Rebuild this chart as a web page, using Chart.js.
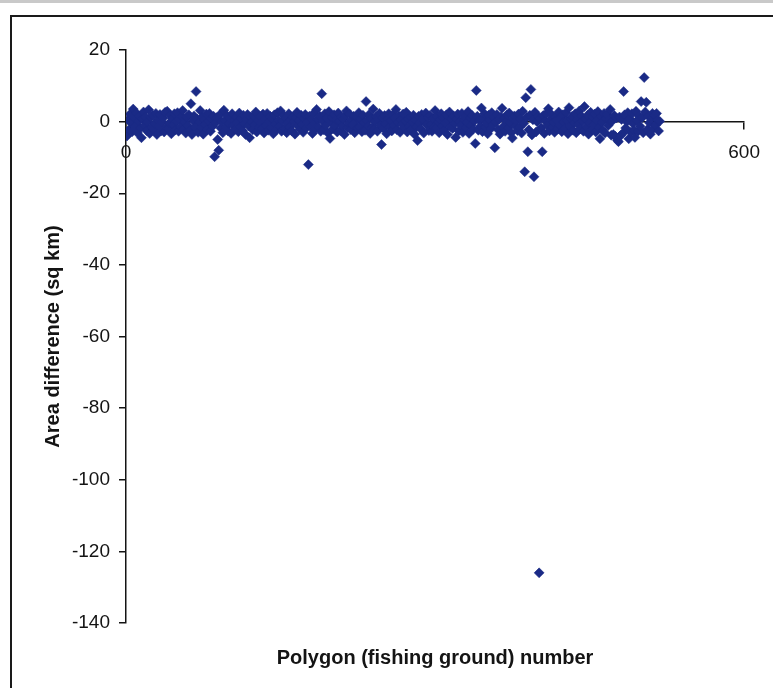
<!DOCTYPE html>
<html>
<head>
<meta charset="utf-8">
<script src="https://cdn.jsdelivr.net/npm/chart.js@4.4.1/dist/chart.umd.min.js"></script>
<style>
  html, body { margin: 0; padding: 0; background: #fff; overflow: hidden; }
  #wrap { position: relative; width: 773px; height: 688px; }
  #topband { position: absolute; left: 0; top: 0; width: 773px; height: 3px; background: #c9c9c9; }
  #frame { position: absolute; left: 10px; top: 15px; width: 800px; height: 700px; border: 2px solid #1a1a1a; }
  canvas { position: absolute; left: 0; top: 0; }
</style>
</head>
<body>
<div id="wrap">
  <div id="topband"></div>
  <div id="frame"></div>
  <canvas id="chart" width="773" height="688"></canvas>
</div>
<script>
// Area difference per polygon (fishing ground), polygon number = index + 1
const areaDiff = [
  -4.0, 0.5, -2.2, 2.1, -0.3, -2.8, 3.5, 1.1, -1.3, 2.4, -3.1, 0.2, 1.5, -1.8, -4.5, 0.8, 2.7, -1.0, 1.3, -2.5,
  0.0, 3.3, -3.3, 1.2, -1.5, 1.8, -2.1, -0.5, 2.3, -3.6, 0.4, -1.2, 2.0, -2.6, -0.1, 1.0, -2.9, 2.6, -1.6, 2.9,
  -1.9, -0.4, 1.7, -3.4, 0.9, -0.9, 2.2, -2.3, 0.1, 2.5, -2.7, 0.6, -1.4, 1.4, 3.1, -2.0, -0.2, -3.2, 1.2, -1.1,
  1.9, -2.4, 5.0, -3.6, 0.3, 1.6, -1.6, 8.4, 0.7, -3.0, -0.1, 3.1, -1.7, 1.3, -3.5, 0.5, -0.8, 2.1, -2.2, 0.2,
  2.3, -2.7, 0.8, -1.3, 1.5, -9.8, -0.3, 1.1, -5.0, -8.0, 1.9, -1.8, 0.0, -3.1, 3.2, 0.3, -1.5, 1.7, -2.6, -0.5,
  1.0, -3.3, 2.2, -1.0, 0.4, -2.1, 1.3, -0.2, -2.8, 2.4, -1.4, 0.9, -2.5, 1.8, -0.6, -3.6, 0.6, 2.0, -1.2, -4.5,
  1.2, -0.1, -2.3, 1.6, -0.9, 2.7, -2.9, 0.3, -1.6, 1.4, -0.4, -2.0, 2.1, -3.2, 0.7, -1.1, 2.3, -2.4, 0.1, 1.5,
  -1.7, 0.8, -3.4, 1.9, -0.7, -2.2, 2.5, 0.4, -1.3, 3.0, -2.7, 0.2, 1.7, -1.9, 1.0, -3.1, -0.3, 2.2, -1.5, 0.5,
  -2.6, 1.3, 0.0, -3.5, 1.1, 2.6, -1.2, 0.3, -2.1, 1.8, -0.8, -3.0, 0.9, 2.0, -1.8, -0.2, -12.0, 1.5, -1.4, 0.7,
  -3.3, 2.3, -0.5, -1.9, 3.4, 0.6, -1.6, 1.6, -2.7, 7.8, 0.1, -2.3, 2.2, -1.0, 1.0, -3.2, 2.8, -4.7, -0.1, 1.2,
  -2.0, 1.9, -1.1, 0.5, -2.9, 2.4, 0.2, -2.5, 1.3, -1.3, 0.8, -3.6, 1.7, 3.0, -1.7, -0.4, 2.1, -2.2, 0.4, -0.9,
  1.5, -3.1, 0.0, 1.2, -1.8, 2.5, -1.5, 0.7, -2.8, 1.8, -0.3, -2.4, 5.6, 0.3, -1.2, 2.0, -3.3, 0.9, -1.6, 3.5,
  -2.1, 0.1, 1.4, -2.7, 0.6, 2.3, -1.0, -6.4, 1.1, -1.9, 1.7, -0.6, -3.4, 0.8, 2.2, -1.4, 0.3, -2.6, 1.9, -1.1,
  1.0, 3.4, -2.3, -0.2, 1.6, -3.0, 0.5, -0.8, 2.1, -1.7, 0.2, 2.6, -2.9, 0.7, -1.3, 1.3, -2.2, -0.1, 1.8, -3.5,
  0.4, -1.5, -5.3, 1.5, -0.4, -2.0, 2.0, 0.8, -3.2, 0.1, 2.4, -0.9, 1.2, -2.5, 1.7, -0.7, -2.7, 0.9, -1.6, 3.1,
  -1.8, 1.4, -0.1, -3.1, 0.6, 2.2, -1.2, 1.1, -2.3, -0.3, 1.9, -3.6, 0.3, 2.7, -1.4, 0.8, -1.9, 1.6, -0.5, -4.4,
  0.7, 2.1, -2.6, 0.0, -1.1, 2.3, -3.0, 0.5, 1.3, -1.7, -0.2, 2.8, -3.3, 1.0, -1.0, 1.7, -2.1, 0.2, -6.1, 8.7,
  1.5, -2.4, 0.3, -1.3, 3.8, -2.8, 0.9, 2.2, -1.6, -0.4, -3.4, 1.8, 0.4, -2.0, 2.5, -0.9, 1.2, -7.3, -0.1, 2.0,
  -2.2, 0.6, -3.5, 1.3, 3.7, -1.4, 1.0, -2.7, 0.1, 1.9, -1.8, 2.4, -0.3, -3.1, -4.6, 0.8, 1.6, -1.2, 0.3, -2.5,
  2.1, -1.6, 0.7, -3.2, 2.9, -0.5, -14.0, 6.7, 1.2, -8.4, -2.3, 1.8, 9.0, -3.7, 0.5, -15.4, 2.6, -2.9, 0.0, 1.4,
  -126.0, 0.9, -1.7, -8.4, 1.7, -3.3, 0.2, 2.3, -1.1, 3.6, -2.6, 0.6, 2.0, -1.5, -0.2, -3.0, 1.3, 0.4, -2.1, 2.7,
  -1.0, 1.1, -2.8, 1.9, -0.1, -1.9, 2.5, 0.3, -3.4, 3.9, -1.3, 0.8, 1.5, -2.4, -0.4, 2.2, -3.1, 0.5, -0.8, 3.0,
  -2.0, 1.6, 0.1, -2.7, 4.2, 0.7, -1.4, 1.8, -3.5, -0.3, 2.6, -2.2, 1.2, -0.9, 2.1, -2.9, 0.3, 2.8, -1.7, -4.8,
  1.4, -0.2, -2.5, 2.3, -3.2, 0.9, 2.0, -1.1, 0.5, 3.4, -3.8, 0.2, -3.6, 1.7, -4.1, 1.0, -5.2, -5.6, 1.3, -3.9,
  0.6, -3.3, 8.4, 1.9, -1.8, 0.0, 2.5, -4.8, 0.8, -3.0, 2.2, -0.5, -2.4, -4.4, 2.9, 0.3, -2.7, 1.6, -1.3, 5.6,
  1.1, -3.1, 12.3, 2.7, 5.4, -2.2, 1.5, -0.3, -3.5, 0.9, 2.3, -1.9, 1.8, -1.0, 2.3, 0.4, -2.6, 0.1
];
const polygonNumbers = areaDiff.map((_, i) => i + 1);

const xTicks = [0, 600];
const yTicks = [20, 0, -20, -40, -60, -80, -100, -120, -140];

const xTitle = 'Polygon (fishing ground) number';
const yTitle = 'Area difference (sq km)';

const ink = '#141414';
const markerColor = '#1a2a86';
const tickFont = { family: "'Liberation Sans', Arial, sans-serif", size: 19 };
const titleFont = { family: "'Liberation Sans', Arial, sans-serif", size: 20, weight: 'bold' };

const points = polygonNumbers.map((x, i) => ({ x, y: areaDiff[i] }));

new Chart(document.getElementById('chart'), {
    type: 'scatter',
    data: {
        datasets: [{
            data: points,
            pointStyle: 'rectRot',
            pointRadius: 5,
            pointBackgroundColor: markerColor,
            pointBorderColor: markerColor,
            pointBorderWidth: 0.5,
        }],
    },
    options: {
        responsive: false,
        animation: false,
        layout: { padding: { left: 0, top: 50, right: 26, bottom: 0 } },
        plugins: {
            legend: { display: false },
            tooltip: { enabled: false },
        },
        scales: {
            x: {
                type: 'linear',
                position: { y: 0 },
                min: xTicks[0],
                max: xTicks[xTicks.length - 1],
                afterBuildTicks: (scale) => { scale.ticks = xTicks.map(v => ({ value: v })); },
                ticks: { color: ink, font: tickFont, padding: 13, maxRotation: 0 },
                grid: { drawOnChartArea: false, drawTicks: true, tickLength: 7, color: ink, lineWidth: 1.5 },
                border: { display: true, color: ink, width: 1.5 },
            },
            xTitle: {
                type: 'linear',
                position: 'bottom',
                min: 0,
                max: 600,
                ticks: { display: false },
                grid: { display: false, drawTicks: false },
                border: { display: false },
                title: { display: true, text: xTitle, color: ink, font: titleFont, padding: { top: 23, bottom: 18 } },
            },
            y: {
                type: 'linear',
                min: -140,
                max: 20,
                afterBuildTicks: (scale) => { scale.ticks = yTicks.map(v => ({ value: v })); },
                afterFit: (scale) => { scale.width = 126; },
                ticks: { color: ink, font: tickFont, padding: 9 },
                grid: { drawOnChartArea: false, drawTicks: true, tickLength: 7, color: ink, lineWidth: 1.5 },
                border: { display: true, color: ink, width: 1.5 },
                title: { display: true, text: yTitle, color: ink, font: titleFont, padding: { top: 41, bottom: 0 } },
            },
        },
    },
});
</script>
</body>
</html>
